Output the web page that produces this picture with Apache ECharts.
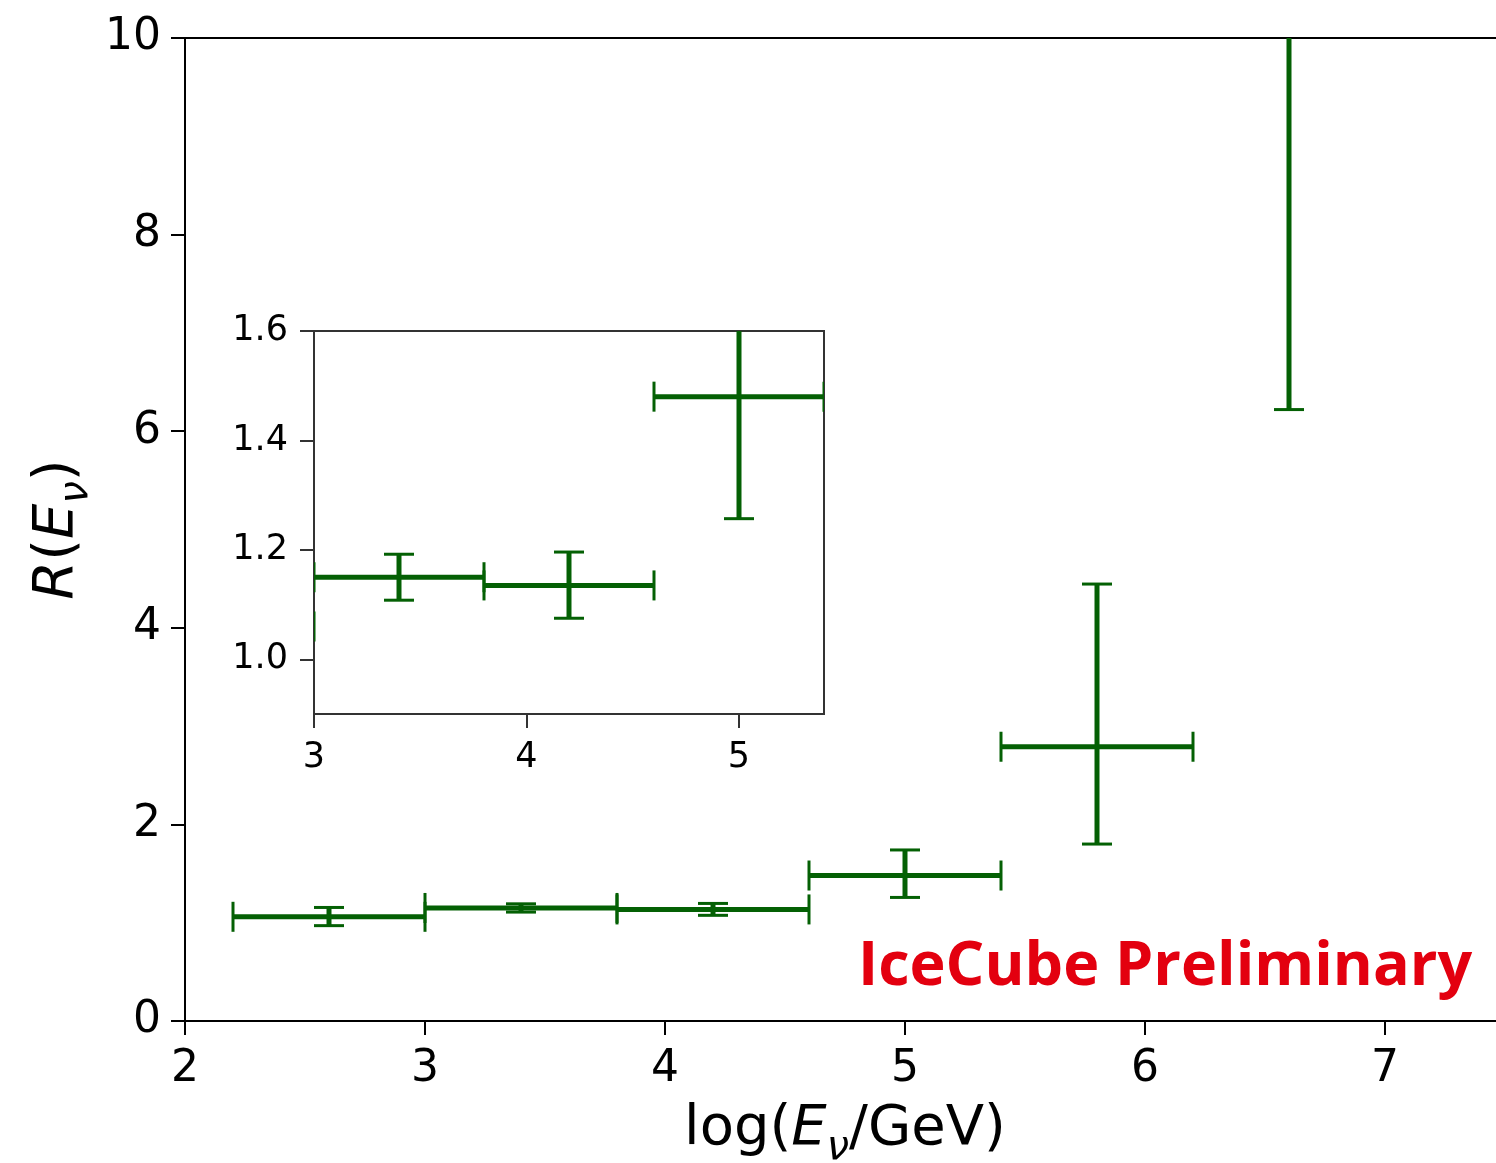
<!DOCTYPE html>
<html>
<head>
<meta charset="utf-8">
<title>R(E_nu) vs log energy</title>
<script src="https://cdn.jsdelivr.net/npm/echarts@6/dist/echarts.min.js"></script>
<style>
  html, body { margin: 0; padding: 0; background: #fff; }
  #chart { width: 1496px; height: 1163px; }
</style>
</head>
<body>
<div id="chart"></div>
<script>
// Energy bins: centre and edges in log10(E/GeV)
const logE     = [2.6, 3.4, 4.2, 5.0, 5.8, 6.6];
const logELow  = [2.2, 3.0, 3.8, 4.6, 5.4, 6.2];
const logEHigh = [3.0, 3.8, 4.6, 5.4, 6.2, 7.0];
// Ratio R(E_nu) with lower / upper uncertainty bounds
const ratio     = [1.06, 1.150, 1.135, 1.48, 2.79, 10.9];
const ratioLow  = [0.97, 1.108, 1.075, 1.257, 1.80, 6.22];
const ratioHigh = [1.155, 1.192, 1.196, 1.74, 4.445, 15.6];

// Tick positions
const mainXTicks  = [2, 3, 4, 5, 6, 7];
const mainYTicks  = [0, 2, 4, 6, 8, 10];
const insetXTicks = [3, 4, 5];
const insetYTicks = [1.0, 1.2, 1.4, 1.6];

const GREEN = '#046004';
const FONT = 'DejaVu Sans';

const rows = logE.map((x, i) => [x, logELow[i], logEHigh[i], ratio[i], ratioLow[i], ratioHigh[i]]);

// Cross-shaped error bar with caps on all four ends
function errorBarItem(params, api) {
  const x = api.value(0), xl = api.value(1), xh = api.value(2);
  const y = api.value(3), yl = api.value(4), yh = api.value(5);
  const pL = api.coord([xl, y]);
  const pR = api.coord([xh, y]);
  const pB = api.coord([x, yl]);
  const pT = api.coord([x, yh]);
  const cap = 15;
  const bar = { stroke: GREEN, lineWidth: 5 };
  const capStyle = { stroke: GREEN, lineWidth: 3 };
  return {
    type: 'group',
    children: [
      { type: 'line', shape: { x1: pL[0], y1: pL[1], x2: pR[0], y2: pR[1] }, style: bar },
      { type: 'line', shape: { x1: pB[0], y1: pB[1], x2: pT[0], y2: pT[1] }, style: bar },
      { type: 'line', shape: { x1: pL[0], y1: pL[1] - cap, x2: pL[0], y2: pL[1] + cap }, style: capStyle },
      { type: 'line', shape: { x1: pR[0], y1: pR[1] - cap, x2: pR[0], y2: pR[1] + cap }, style: capStyle },
      { type: 'line', shape: { x1: pB[0] - cap, y1: pB[1], x2: pB[0] + cap, y2: pB[1] }, style: capStyle },
      { type: 'line', shape: { x1: pT[0] - cap, y1: pT[1], x2: pT[0] + cap, y2: pT[1] }, style: capStyle }
    ]
  };
}

function axisCommon(color, fontSize, ticks, margin, fmt) {
  return {
    axisLine: { show: true, onZero: false, lineStyle: { color: color, width: 2 } },
    axisTick: { show: true, inside: false, length: 14, lineStyle: { color: color, width: 2 }, customValues: ticks },
    axisLabel: {
      show: true, color: '#000', fontFamily: FONT, fontSize: fontSize, margin: margin,
      customValues: ticks, formatter: fmt, showMinLabel: true, showMaxLabel: true
    },
    splitLine: { show: false }
  };
}

const titleRich = {
  n: { fontFamily: FONT, fontSize: 56, lineHeight: 56, color: '#000' },
  i: { fontFamily: FONT, fontSize: 56, lineHeight: 56, fontStyle: 'italic', color: '#000' },
  s: { fontFamily: FONT, fontSize: 40, lineHeight: 28, fontStyle: 'italic', color: '#000',
       verticalAlign: 'top', padding: [28, 0, 0, 0] }
};

const chart = echarts.init(document.getElementById('chart'), null, { renderer: 'canvas' });

chart.setOption({
  animation: false,
  backgroundColor: '#fff',
  grid: [
    { left: 185, top: 38, width: 1320, height: 983, show: true, borderColor: '#000', borderWidth: 2,
      backgroundColor: 'transparent', containLabel: false, outerBoundsMode: 'none' },
    { left: 314, top: 331, width: 510, height: 383, show: true, borderColor: '#333', borderWidth: 2,
      backgroundColor: '#fff', containLabel: false, outerBoundsMode: 'none', z: 5 }
  ],
  xAxis: [
    Object.assign({
      type: 'value', gridIndex: 0, min: 2, max: 7.5, position: 'bottom',
      name: '{n|log(}{i|E}{s|ν}{n|/GeV)}', nameLocation: 'middle', nameGap: 80, nameMoveOverlap: false,
      nameTextStyle: { rich: titleRich }
    }, axisCommon('#000', 44, mainXTicks, 27, v => String(v))),
    Object.assign({
      type: 'value', gridIndex: 1, min: 3, max: 5.4, position: 'bottom', z: 6
    }, axisCommon('#333', 35, insetXTicks, 26, v => String(v)))
  ],
  yAxis: [
    Object.assign({
      type: 'value', gridIndex: 0, min: 0, max: 10, position: 'left',
      name: '{i|R}{n|(}{i|E}{s|ν}{n|)}', nameLocation: 'middle', nameGap: 100, nameRotate: 90, nameMoveOverlap: false,
      nameTextStyle: { rich: titleRich }
    }, axisCommon('#000', 44, mainYTicks, 24, v => String(v))),
    Object.assign({
      type: 'value', gridIndex: 1, min: 0.9, max: 1.6, position: 'left', z: 6
    }, axisCommon('#333', 35, insetYTicks, 26, v => v.toFixed(1)))
  ],
  series: [
    {
      type: 'custom', name: 'main', xAxisIndex: 0, yAxisIndex: 0, clip: true,
      data: rows, encode: { x: [0, 1, 2], y: [3, 4, 5] }, renderItem: errorBarItem, z: 2
    },
    {
      type: 'custom', name: 'inset', xAxisIndex: 1, yAxisIndex: 1, clip: true,
      data: rows, encode: { x: [0, 1, 2], y: [3, 4, 5] }, renderItem: errorBarItem, z: 7
    }
  ],
  graphic: [
    {
      type: 'text', left: 858, top: 937, z: 10,
      style: {
        text: 'IceCube Preliminary', fill: '#e3000f',
        font: 'bold 61px "Open Sans"'
      }
    }
  ]
});
</script>
</body>
</html>
